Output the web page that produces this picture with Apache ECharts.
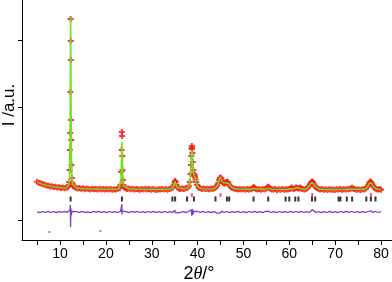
<!DOCTYPE html>
<html><head><meta charset="utf-8">
<script src="https://cdn.jsdelivr.net/npm/echarts@6/dist/echarts.min.js"></script>
<style>html,body{margin:0;padding:0;background:#fff}#c{width:392px;height:282px}</style>
</head><body><div id="c"></div>
<script>
// 2theta tick labels
var xTickLabels = [10, 20, 30, 40, 50, 60, 70, 80];
var xMinorTicks = [5, 10, 15, 20, 25, 30, 35, 40, 45, 50, 55, 60, 65, 70, 75, 80];
var yTicks = [1720, 1050, -80];

// observed intensity (red crosses)
var obsX = [5.0,5.4,5.8,6.2,6.6,7.0,7.4,7.8,8.2,8.6,9.0,9.4,9.8,10.2,10.6,11.0,11.4,11.7,
 11.9,12.0,12.1,12.15,12.2,12.25,12.3,12.33,12.36,12.4,12.45,12.5,12.6,12.7,12.85,13.0,
 13.4,13.8,14.2,14.6,15.0,15.4,15.8,16.2,16.6,17.0,17.4,17.8,18.2,18.6,19.0,19.4,19.8,20.2,20.6,21.0,21.4,21.8,22.2,22.6,
 23.0,23.2,23.35,23.42,23.47,23.52,23.57,23.62,23.7,23.8,24.0,24.3,
 24.6,25.0,25.4,25.8,26.2,26.6,27.0,27.4,27.8,28.2,28.6,29.0,29.4,29.8,30.2,30.6,31.0,31.4,31.8,32.2,32.6,33.0,33.4,33.8,34.2,
 34.6,34.85,35.0,35.1,35.2,35.35,35.6,35.9,
 36.2,36.6,37.0,37.4,37.8,38.1,38.3,38.45,38.55,38.62,38.7,38.75,38.8,38.87,38.95,39.05,39.15,39.25,39.35,39.45,39.55,39.7,39.9,40.2,40.5,40.9,
 41.3,41.7,42.1,42.5,42.9,43.3,43.7,44.0,44.3,44.5,44.7,44.85,45.0,45.15,45.3,45.5,45.7,45.9,46.1,46.3,46.5,46.65,46.8,47.0,47.3,47.6,48.0,48.4,
 48.8,49.2,49.6,50.0,50.4,50.8,51.2,51.6,51.9,52.1,52.3,52.5,52.7,53.0,53.4,53.8,54.2,54.6,55.0,55.2,55.4,55.6,55.8,56.1,56.5,56.9,57.3,57.7,58.1,58.5,58.9,59.3,59.7,
 60.1,60.3,60.5,60.7,61.0,61.3,61.5,61.7,62.0,62.2,62.4,62.6,62.9,63.3,63.7,64.0,64.3,64.5,64.7,64.85,65.0,65.15,65.3,65.5,65.7,66.0,66.3,66.7,67.1,67.5,67.9,68.3,68.7,69.1,69.5,69.9,
 70.3,70.7,71.1,71.5,71.9,72.3,72.7,73.1,73.4,73.7,74.0,74.3,74.7,75.1,75.5,75.9,76.3,76.7,77.0,77.25,77.45,77.6,77.75,77.9,78.05,78.25,78.5,78.8,79.1,79.4,79.7,80.0];
var obsY = [302,291,287,278,275,265,264,256,258,250,252,246,248,241,244,238,243,250,
 268,300,420,620,790,1200,1930,1710,1520,920,720,470,340,290,262,252,
 246,236,241,233,237,228,235,231,226,233,227,231,225,232,226,230,224,229,226,231,223,228,226,232,
 238,270,400,620,800,760,560,420,320,270,246,238,
 231,236,227,233,225,231,228,222,230,226,232,224,229,223,230,226,221,228,224,231,225,229,222,230,234,
 244,275,300,312,298,270,245,235,
 229,236,231,238,242,258,300,380,470,560,630,660,640,590,500,420,380,362,370,348,325,300,270,246,240,231,
 236,229,233,227,235,231,238,250,265,290,320,340,345,335,315,296,288,284,292,300,303,295,278,262,248,240,233,229,
 226,231,224,229,222,230,225,228,236,242,248,240,231,226,230,222,229,224,236,244,252,246,235,228,224,230,221,228,223,229,222,227,225,
 231,238,244,236,230,238,246,240,234,238,244,236,229,225,231,242,258,275,290,300,306,298,284,265,250,240,232,226,229,222,227,221,228,223,226,220,
 227,224,229,222,228,224,230,228,236,242,233,227,223,228,221,227,225,236,250,270,290,300,305,296,280,262,245,234,228,224,229,222];

// calculated profile (green line)
var calcX = [5,5.5,6,6.5,7,7.5,8,8.5,9,9.5,10,10.5,11,11.5,11.8,12.0,12.1,12.2,12.25,12.3,12.35,12.4,12.5,12.6,12.8,13.0,13.5,14,15,16,17,18,19,20,21,22,22.8,23.1,23.3,23.4,23.5,23.6,23.7,23.9,24.2,25,26,28,30,32,33,34,34.6,34.9,35.1,35.3,35.6,36,37,37.8,38.2,38.4,38.55,38.65,38.75,38.85,38.95,39.1,39.3,39.45,39.6,39.8,40.1,40.5,41,42,43,43.8,44.3,44.6,44.9,45.2,45.5,45.8,46.2,46.5,46.8,47.2,47.7,48.5,50,51.5,52,52.3,52.6,53,54.5,55.1,55.4,55.7,56.2,58,59.5,60.2,60.5,60.9,61.3,61.6,61.9,62.2,62.5,62.9,63.5,64.0,64.4,64.7,65.0,65.3,65.6,66.0,66.5,67.5,69,71,72.5,73.3,73.7,74.1,75,76.2,76.8,77.2,77.5,77.75,78.0,78.3,78.7,79.2,80];
var calcY = [300,289,280,273,267,262,257,253,250,247,245,242,240,242,252,290,380,800,1400,1950,1600,1000,480,330,275,255,243,238,234,232,230,229,228,227,227,227,230,245,320,500,700,480,330,260,240,232,229,227,226,226,226,228,240,280,305,275,242,232,232,240,268,330,450,560,620,580,480,390,360,350,315,278,250,238,233,230,230,237,262,300,350,330,295,282,290,305,285,255,238,230,227,226,234,246,233,227,226,235,250,236,227,225,226,232,242,231,236,245,236,237,242,230,228,240,262,290,305,285,258,238,229,225,224,225,226,230,240,229,225,226,238,262,290,302,285,255,235,227,224];

// difference curve (purple)
var diffX = [5.0,5.6,6.2,6.8,7.4,8.0,8.6,9.2,9.8,10.4,11.0,11.6,12.0,12.15,12.25,12.3,12.35,12.45,12.6,13.0,13.6,14.2,14.8,15.4,16.0,16.6,17.2,17.8,18.4,19.0,19.6,20.2,20.8,21.4,22.0,22.6,23.2,23.4,23.47,23.52,23.6,23.8,24.4,25.0,25.6,26.2,26.8,27.4,28.0,28.6,29.2,29.8,30.4,31.0,31.6,32.2,32.8,33.4,34.0,34.6,35.0,35.2,35.6,36.2,36.8,37.4,38.0,38.4,38.6,38.75,38.85,39.0,39.2,39.5,40.0,40.6,41.2,41.8,42.4,43.0,43.6,44.2,44.7,45.0,45.3,45.8,46.4,47.0,47.6,48.2,48.8,49.4,50.0,50.6,51.2,51.8,52.4,53.0,53.6,54.2,54.8,55.4,56.0,56.6,57.2,57.8,58.4,59.0,59.6,60.2,60.8,61.4,62.0,62.6,63.2,63.8,64.4,64.8,65.0,65.3,65.8,66.4,67.0,67.6,68.2,68.8,69.4,70.0,70.6,71.2,71.8,72.4,73.0,73.6,74.2,74.8,75.4,76.0,76.6,77.2,77.7,78.2,78.8,79.4,80.0];
var diffY = [2,-6,5,-3,7,-5,3,-7,4,-2,6,-4,5,20,70,-150,40,-30,5,-6,4,-3,6,-5,2,-7,5,-2,6,-4,3,-6,5,-3,4,-5,6,15,80,-25,12,-5,4,-6,5,-2,6,-5,3,-6,5,-3,6,-4,3,-6,5,-3,4,-5,18,-8,4,-5,3,-6,5,-10,22,-38,30,-22,8,-8,5,-4,6,-5,3,-6,4,-8,-12,-22,6,-4,5,-6,4,-3,6,-5,3,-6,5,-3,6,-4,3,-6,5,8,-5,3,-6,5,-3,4,-5,6,-3,5,-4,6,-5,3,-4,12,22,10,-4,5,-6,3,-5,6,-3,4,-6,5,-3,6,-4,5,-5,3,-6,4,-3,5,12,-4,5,-5,3];

// Bragg positions
var braggMain = [12.3,23.5,34.5,35.1,37.7,39.2,43.9,46.4,46.9,52.2,55.4,59.2,60.0,61.3,62.0,64.95,65.65,70.75,71.15,72.55,73.7,76.8,77.8,78.8];
var braggSecond = [38.75,45.0,65.0,77.8];
var braggMainLevel = 130;
var braggSecondLevel = 170;
var strayX = [7.7, 18.8];
var strayY = [-200, -190];

function zip(a, b) { return a.map(function (v, i) { return [v, b[i]]; }); }

var chart = echarts.init(document.getElementById('c'), null, {renderer: 'canvas'});
var crossPath = 'path://M0,2h6v2h-6z M2,0h2v6h-2z';
chart.setOption({
  animation: false,
  backgroundColor: '#fff',
  grid: {left: 22, right: 0, top: 0, bottom: 42, containLabel: false},
  xAxis: {
    type: 'value', min: 1.7, max: 82.4,
    axisLine: {show: true, onZero: false, lineStyle: {color: '#000', width: 1}},
    axisTick: {show: true, customValues: xMinorTicks, length: 5, lineStyle: {color: '#000'}},
    axisLabel: {show: true, customValues: xTickLabels, fontSize: 14, color: '#000', margin: 7, fontFamily: 'Liberation Sans, Arial, sans-serif'},
    splitLine: {show: false}
  },
  yAxis: {
    type: 'value', min: -280, max: 2120,
    axisLine: {show: true, onZero: false, lineStyle: {color: '#000', width: 1}},
    axisTick: {show: true, customValues: yTicks, length: 4, lineStyle: {color: '#000'}},
    axisLabel: {show: false},
    splitLine: {show: false}
  },
  graphic: [
    {type: 'text', x: 199, y: 274, style: {
      text: '{a|2}{b|θ}{a|/°}', align: 'center', verticalAlign: 'middle',
      rich: {
        a: {fontSize: 18, fontFamily: 'Liberation Sans, Arial, sans-serif', fill: '#000'},
        b: {fontSize: 18, fontStyle: 'italic', fontFamily: 'Liberation Serif, serif', fill: '#000'}
      }}},
    {type: 'text', x: 9, y: 105, rotation: Math.PI / 2, style: {
      text: 'I /a.u.', align: 'center', verticalAlign: 'middle',
      font: '17px "Liberation Sans", Arial, sans-serif', fill: '#000'}}
  ],
  series: [
    {type: 'scatter', data: zip(obsX, obsY), symbol: crossPath, symbolSize: 6,
     itemStyle: {color: '#ff1818', opacity: 0.85}, z: 2},
    {type: 'line', data: zip(calcX, calcY), showSymbol: false, symbol: 'none',
     lineStyle: {color: '#6fe020', width: 1.6}, z: 3},
    {type: 'line', data: zip(diffX, diffY), showSymbol: false, symbol: 'none',
     lineStyle: {color: '#7a3ccc', width: 1.3}, z: 3},
    {type: 'scatter', data: braggMain.map(function (v) { return [v, braggMainLevel]; }),
     symbol: 'rect', symbolSize: [2, 5], itemStyle: {color: '#000'}, z: 4},
    {type: 'scatter', data: braggSecond.map(function (v) { return [v, braggSecondLevel]; }),
     symbol: 'rect', symbolSize: [2, 4], itemStyle: {color: '#ff3030'}, z: 4},
    {type: 'scatter', data: zip(strayX, strayY), symbol: 'rect', symbolSize: 2,
     itemStyle: {color: '#8a5ad8'}, z: 4}
  ]
});
</script></body></html>
